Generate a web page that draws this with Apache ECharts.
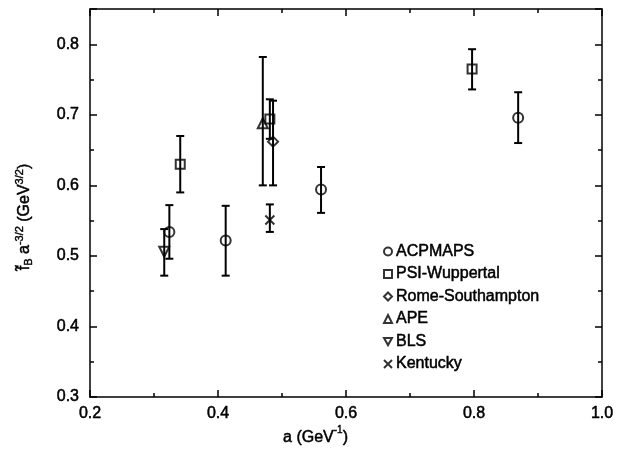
<!DOCTYPE html>
<html><head><meta charset="utf-8">
<script src="https://cdn.jsdelivr.net/npm/echarts@6/dist/echarts.min.js"></script>
<style>html,body{margin:0;padding:0;background:#fff}#c{width:631px;height:449px}</style>
</head><body><div id="c"></div>
<script>
const seriesNames = ['ACPMAPS','PSI-Wuppertal','Rome-Southampton','APE','BLS','Kentucky'];
const acpX = [0.324, 0.412, 0.561, 0.869];
const acpY = [0.534, 0.522, 0.594, 0.696];
const acpLo = [0.496, 0.472, 0.561, 0.660];
const acpHi = [0.572, 0.571, 0.626, 0.732];
const psiX = [0.341, 0.481, 0.797];
const psiY = [0.630, 0.694, 0.765];
const psiLo = [0.590, 0.666, 0.736];
const psiHi = [0.670, 0.722, 0.793];
const romeX = [0.486];
const romeY = [0.662];
const romeLo = [0.600];
const romeHi = [0.720];
const apeX = [0.470];
const apeY = [0.688];
const apeLo = [0.600];
const apeHi = [0.782];
const blsX = [0.316];
const blsY = [0.506];
const blsLo = [0.472];
const blsHi = [0.538];
const kenX = [0.481];
const kenY = [0.551];
const kenLo = [0.534];
const kenHi = [0.573];
const xTicks = [0.2, 0.4, 0.6, 0.8, 1.0];
const yTicks = [0.3, 0.4, 0.5, 0.6, 0.7, 0.8];

const groups = [
  {x: acpX, y: acpY, lo: acpLo, hi: acpHi, symbol: 'circle', size: 10},
  {x: psiX, y: psiY, lo: psiLo, hi: psiHi, symbol: 'rect', size: 9},
  {x: romeX, y: romeY, lo: romeLo, hi: romeHi, symbol: 'diamond', size: 10},
  {x: apeX, y: apeY, lo: apeLo, hi: apeHi, symbol: 'triangle', size: 10},
  {x: blsX, y: blsY, lo: blsLo, hi: blsHi, symbol: 'path://M0,0L10,0L5,9Z', size: 10},
  {x: kenX, y: kenY, lo: kenLo, hi: kenHi, symbol: 'path://M0,0L10,10M10,0L0,10', size: 9}
];

const FONT = 'Liberation Sans';
const TB = {textBorderColor: '#000', textBorderWidth: 0.5};
const series = [];
groups.forEach((g, i) => {
  series.push({
    type: 'custom', name: seriesNames[i] + '_err', silent: true, z: 2,
    data: g.x.map((x, k) => [x, g.lo[k], g.hi[k]]),
    renderItem: function (params, api) {
      const lo = api.coord([api.value(0), api.value(1)]);
      const hi = api.coord([api.value(0), api.value(2)]);
      const w = 4;
      const st = {stroke: '#000', lineWidth: 2};
      return {type: 'group', children: [
        {type: 'line', shape: {x1: lo[0], y1: lo[1], x2: hi[0], y2: hi[1]}, style: st},
        {type: 'line', shape: {x1: lo[0]-w, y1: lo[1], x2: lo[0]+w, y2: lo[1]}, style: st},
        {type: 'line', shape: {x1: hi[0]-w, y1: hi[1], x2: hi[0]+w, y2: hi[1]}, style: st}
      ]};
    }
  });
  series.push({
    type: 'scatter', name: seriesNames[i], z: 3,
    symbol: g.symbol, symbolSize: g.size,
    itemStyle: {color: 'rgba(0,0,0,0)', borderColor: '#000', borderWidth: 2},
    data: g.x.map((x, k) => [x, g.y[k]])
  });
});

const chart = echarts.init(document.getElementById('c'), null, {renderer: 'canvas'});
const axisCommon = {
  axisLine: {lineStyle: {color: '#000', width: 1.5}},
  axisTick: {inside: true, length: 7, lineStyle: {color: '#000', width: 1.5}},
  minorTick: {show: true, splitNumber: 2, length: 4, lineStyle: {color: '#000', width: 1.5}},
  splitLine: {show: false}
};
const SN = {fontFamily: FONT, fill: '#000', stroke: '#000', lineWidth: 0.5};
chart.setOption({
  animation: false,
  backgroundColor: '#fff',
  grid: {left: 90, right: 29, top: 9, bottom: 52},
  xAxis: [
    Object.assign({type: 'value', min: xTicks[0], max: xTicks[xTicks.length-1], interval: 0.2,
      axisLabel: Object.assign({color: '#000', fontFamily: FONT, fontSize: 16, margin: 9, formatter: v => v.toFixed(1)}, TB)}, axisCommon),
    Object.assign({type: 'value', position: 'top', min: xTicks[0], max: xTicks[xTicks.length-1], interval: 0.2,
      axisLabel: {show: false}}, axisCommon)
  ],
  yAxis: [
    Object.assign({type: 'value', min: yTicks[0], max: 0.85, interval: 0.1,
      axisLabel: Object.assign({color: '#000', fontFamily: FONT, fontSize: 16, margin: 11,
        formatter: v => (Math.abs(v*10 - Math.round(v*10)) < 1e-6 ? v.toFixed(1) : '')}, TB)}, axisCommon),
    Object.assign({type: 'value', position: 'right', min: yTicks[0], max: 0.85, interval: 0.1,
      axisLabel: {show: false}}, axisCommon)
  ],
  legend: {
    orient: 'vertical', left: 378, top: 238, itemWidth: 8, itemHeight: 8, itemGap: 5.5,
    data: seriesNames, selectedMode: false,
    textStyle: Object.assign({color: '#000', fontFamily: FONT, fontSize: 16, lineHeight: 17, padding: [0,0,0,-1]}, TB)
  },
  graphic: [
    {type: 'text', left: 'center', x: 0, top: 425,
     style: {x: 0, text: '{n|a (GeV}{s|-1}{n|)}', rich: {
       n: Object.assign({fontSize: 16, verticalAlign: 'bottom'}, SN),
       s: Object.assign({fontSize: 10, verticalAlign: 'top', padding: [0,0,10,0]}, SN, {lineWidth: 0.4})}}},
    {type: 'text', x: 25, y: 217, rotation: Math.PI/2,
     style: {text: '{n|f\u0303}{sb|B}{n| a}{s|-3/2}{n| (GeV}{s|3/2}{n|)}', align: 'center', verticalAlign: 'middle',
       rich: {
         n: Object.assign({fontSize: 16}, SN),
         s: Object.assign({fontSize: 11, padding: [0,0,10,0]}, SN, {lineWidth: 0.4}),
         sb: Object.assign({fontSize: 11, padding: [8,0,0,0]}, SN, {lineWidth: 0.4})}}}
  ],
  series: series
});
</script></body></html>
